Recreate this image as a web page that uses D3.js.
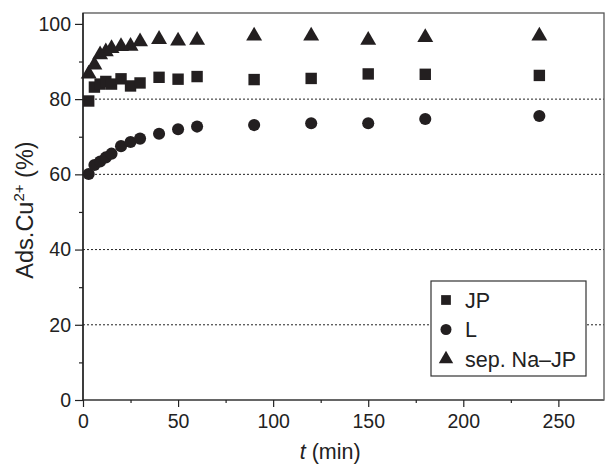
<!DOCTYPE html>
<html><head><meta charset="utf-8">
<script src="https://cdn.jsdelivr.net/npm/d3@7"></script>
<style>body{margin:0;background:#fff}svg{display:block}text{font-family:"Liberation Sans",Arial,sans-serif}</style>
</head><body>
<svg id="c" width="605" height="465"></svg>
<script>
const times = [3, 6, 9, 12, 15, 20, 25, 30, 40, 50, 60, 90, 120, 150, 180, 240];
const jp = [79.5, 83.2, 84.0, 84.7, 84.0, 85.4, 83.5, 84.3, 85.8, 85.3, 86.0, 85.2, 85.5, 86.7, 86.6, 86.3];
const lig = [60.1, 62.5, 63.4, 64.5, 65.5, 67.5, 68.6, 69.5, 70.8, 72.0, 72.7, 73.1, 73.6, 73.6, 74.7, 75.5];
const naJp = [86.7, 89.1, 91.8, 92.6, 93.5, 94.0, 94.1, 95.3, 95.9, 95.5, 95.7, 96.8, 96.8, 95.7, 96.4, 96.8];
const seriesNames = ["JP", "L", "sep. Na\u2013JP"];
const xTicks = [0, 50, 100, 150, 200, 250];
const yTicks = [0, 20, 40, 60, 80, 100];
const gridY = [20, 40, 60, 80];

const svg = d3.select("#c");
const m = {l: 83, r: 604, t: 13, b: 400};
const x = d3.scaleLinear().domain([0, 274]).range([m.l, m.r]);
const y = d3.scaleLinear().domain([0, 102.9]).range([m.b, m.t]);

// grid
svg.append("g").selectAll("line").data(gridY).join("line")
  .attr("x1", m.l).attr("x2", m.r).attr("y1", d => y(d)).attr("y2", d => y(d))
  .attr("stroke", "#222").attr("stroke-width", 1).attr("stroke-dasharray", "2,2");

// frame
svg.append("rect").attr("x", m.l).attr("y", m.t).attr("width", m.r - m.l).attr("height", m.b - m.t)
  .attr("fill", "none").attr("stroke", "#555").attr("stroke-width", 1.3);

// x axis
const xAx = svg.append("g").attr("transform", `translate(0,${m.b})`)
  .call(d3.axisBottom(x).tickValues(xTicks).tickSize(7).tickPadding(7).tickFormat(d3.format("d")));
svg.append("g").attr("transform", `translate(0,${m.b})`)
  .call(d3.axisBottom(x).tickValues(d3.range(25, 275, 50)).tickSize(3).tickFormat(""))
  .call(g => g.select(".domain").remove());
// y axis
const yAx = svg.append("g").attr("transform", `translate(${m.l},0)`)
  .call(d3.axisLeft(y).tickValues(yTicks).tickSize(8).tickPadding(4).tickFormat(d3.format("d")));
svg.append("g").attr("transform", `translate(${m.l},0)`)
  .call(d3.axisLeft(y).tickValues(d3.range(10, 100, 20)).tickSize(4).tickFormat(""))
  .call(g => g.select(".domain").remove());
svg.selectAll(".tick line").attr("stroke", "#222").attr("stroke-width", 1.2);
xAx.select(".domain").attr("stroke", "#666").attr("stroke-width", 2).attr("d", `M${m.l},0H${m.r}`);
yAx.select(".domain").attr("stroke", "#111").attr("stroke-width", 1.3).attr("d", `M0,${m.t}V${m.b}`);
svg.selectAll(".tick text").attr("font-size", 19.5).attr("fill", "#222")
  .attr("font-family", "Liberation Sans, Arial, sans-serif");

// axis titles
svg.append("text").attr("x", x(130)).attr("y", 459).attr("text-anchor", "middle")
  .attr("font-size", 21.5).attr("fill", "#222")
  .html('<tspan font-style="italic">t</tspan> (min)');
svg.append("text").attr("transform", `translate(33,210) rotate(-90)`).attr("text-anchor", "middle")
  .attr("font-size", 23.5).attr("fill", "#222")
  .html('Ads.Cu<tspan font-size="15" dy="-9">2+</tspan><tspan dy="9"> (%)</tspan>');

// markers
const sq = d3.symbol().type(d3.symbolSquare).size(130);
const ci = d3.symbol().type(d3.symbolCircle).size(115);
const tr = d3.symbol().type(d3.symbolTriangle).size(110);
const series = [
  {name: seriesNames[0], vals: jp, sym: sq},
  {name: seriesNames[1], vals: lig, sym: ci},
  {name: seriesNames[2], vals: naJp, sym: tr}
];
series.forEach(s => {
  svg.append("g").selectAll("path").data(times).join("path")
    .attr("d", s.sym)
    .attr("transform", (t, i) => `translate(${x(t)},${y(s.vals[i])})`)
    .attr("fill", "#231f20");
});

// legend
const lg = svg.append("g");
lg.append("rect").attr("x", 431).attr("y", 281).attr("width", 155).attr("height", 95)
  .attr("fill", "#fff").attr("stroke", "#333").attr("stroke-width", 1.2);
const lsyms = [d3.symbol().type(d3.symbolSquare).size(95), d3.symbol().type(d3.symbolCircle).size(95), d3.symbol().type(d3.symbolTriangle).size(90)];
series.forEach((s, i) => {
  const yy = 300 + i * 29.5;
  lg.append("path").attr("d", lsyms[i]).attr("transform", `translate(446,${yy})`).attr("fill", "#231f20");
  lg.append("text").attr("x", 465).attr("y", yy + 7.5).attr("font-size", 21.5).attr("fill", "#222").text(s.name);
});
</script>
</body></html>
